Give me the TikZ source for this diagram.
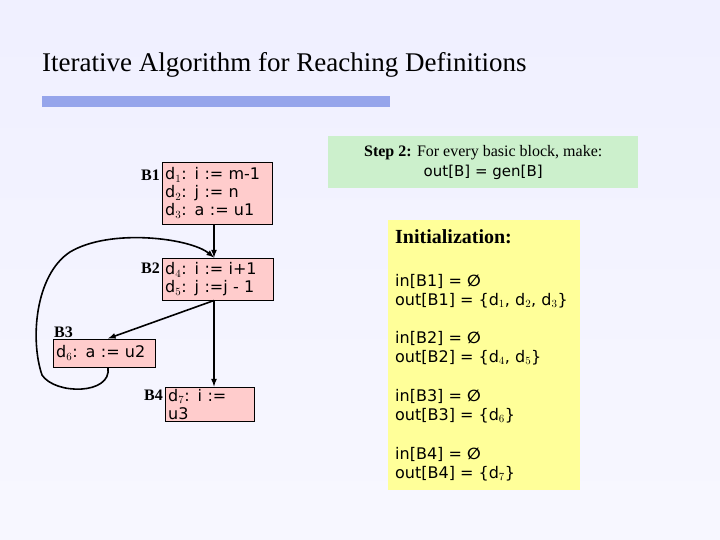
\documentclass[tikz,border=0pt]{standalone}
\usepackage{fontspec}
\newfontfamily\vf{DejaVu Sans}
\setmainfont{Liberation Serif}
\newcommand{\es}{{\vf\bfseries\symbol{"2205}}}
\begin{document}
\begin{tikzpicture}[x=1pt,y=-1pt,
 blk/.style={draw=black,fill=red!20!white,align=left,inner sep=2pt,font=\vf\fontsize{16}{18}\selectfont},
 lab/.style={font=\bfseries\fontsize{16}{18}\selectfont,inner sep=2pt},
 arr/.style={line width=1.6pt,-latex}]
\shade[top color=blue!6,bottom color=blue!3] (0,0) rectangle (720,540);
\useasboundingbox (0,0) rectangle (720,540);
\node[anchor=west,font=\fontsize{27}{30}\selectfont,inner sep=0pt] (title) at (42,65) {Iterative Algorithm for Reaching Definitions};
\fill[color={rgb,255:red,150;green,165;blue,235}] (42,96) rectangle (390,107);
\node[blk,minimum width=110,minimum height=62,anchor=north west,text width=104] (b1) at (162,162) {d$_1$: i := m-1\\d$_2$: j := n\\d$_3$: a := u1};
\node[blk,minimum width=111,minimum height=42,anchor=north west,text width=105] (b2) at (162,258) {d$_4$: i := i+1\\d$_5$: j :=j - 1};
\node[blk,minimum width=102,minimum height=28,anchor=north west,text width=96] (b3) at (53,339) {d$_6$: a := u2};
\node[blk,minimum width=89,minimum height=26,anchor=north west,text width=83] (b4) at (165,387) {d$_7$: i := u3};
\node[lab,anchor=north east] (l1) at ([yshift=-6pt]b1.north west) {B1};
\node[lab,anchor=north east] (l2) at ([yshift=-3pt]b2.north west) {B2};
\node[lab,anchor=south west,inner sep=1pt] (l3) at (b3.north west) {B3};
\node[lab,anchor=north east] (l4) at ([yshift=-1pt]b4.north west) {B4};
\coordinate (p1) at (214,224.5);
\coordinate (p2) at (214,257.5);
\coordinate (p3) at (214,300.5);
\coordinate (p4) at (214,386.5);
\coordinate (p5) at (108,338.5);
\coordinate (p6) at (108,367.5);
\draw[arr] (p1) -- (p2);
\draw[arr] (p3) -- (p4);
\draw[arr] (p3) -- (p5);
\draw[arr] (p6) .. controls (112,395) and (55,395) .. (42,375) .. controls (30,340) and (35,275) .. (70,252) .. controls (110,228) and (190,238) .. (p2);
\node[fill={rgb,255:red,204;green,240;blue,204},minimum width=310,minimum height=52,anchor=north west,align=center,font=\fontsize{16}{20}\selectfont] (g) at (328,136) {\textbf{Step 2:} For every basic block, make:\\{\vf\fontsize{15}{20}\selectfont out[B] = gen[B]}};
\node[fill={rgb,255:red,255;green,255;blue,153},minimum width=192,minimum height=270,anchor=north west] (y) at (388,220) {};
\node[anchor=north west,font=\bfseries\fontsize{20}{22}\selectfont,inner sep=0pt] (init) at (395,229) {Initialization:};
\begin{scope}[every node/.style={anchor=north west,align=left,font=\vf\fontsize{16}{19}\selectfont,inner sep=0pt}]
\node (t1) at (395,274) {in[B1] = \es\\out[B1] = \{d$_1$, d$_2$, d$_3$\}};
\node (t2) at (395,331) {in[B2] = \es\\out[B2] = \{d$_4$, d$_5$\}};
\node (t3) at (395,389) {in[B3] = \es\\out[B3] = \{d$_6$\}};
\node (t4) at (395,447) {in[B4] = \es\\out[B4] = \{d$_7$\}};
\end{scope}
\end{tikzpicture}
\end{document}
